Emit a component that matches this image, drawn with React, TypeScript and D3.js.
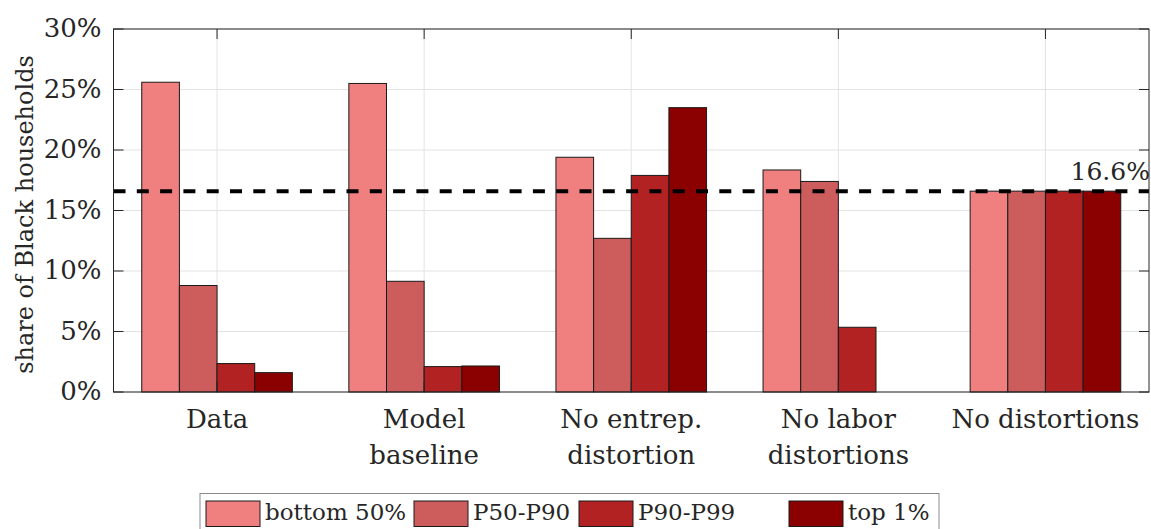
import React from 'react';
import * as d3 from 'd3';

// chart values (percent of Black households)
const categories = [['Data'], ['Model', 'baseline'], ['No entrep.', 'distortion'], ['No labor', 'distortions'], ['No distortions']];
const seriesNames = ['bottom 50%', 'P50-P90', 'P90-P99', 'top 1%'];
const seriesColors = ['#F08080', '#CD5C5C', '#B22222', '#8B0000'];
const bottom50 = [25.6, 25.5, 19.4, 18.35, 16.6];
const p50p90 = [8.8, 9.15, 12.7, 17.4, 16.6];
const p90p99 = [2.35, 2.1, 17.9, 5.35, 16.6];
const top1 = [1.6, 2.15, 23.5, 0, 16.6];
const yTicks = [0, 5, 10, 15, 20, 25, 30];
const refLevel = 16.6;

const W = 1151;
const H = 529;
const margins = { left: 113.5, right: 2, top: 29, bottom: 137 };
const txt: React.CSSProperties = { fontFamily: "'DejaVu Serif', 'Liberation Serif', 'Noto Serif', Times, serif" };
const ink = '#262626';

const series = [bottom50, p50p90, p90p99, top1];

export default function App() {
  const x = d3.scaleLinear()
    .domain([0.5, categories.length + 0.5])
    .range([margins.left, W - margins.right]);
  const y = d3.scaleLinear()
    .domain([0, 30])
    .range([H - margins.bottom, margins.top]);

  // matlab-style grouped bars
  const groupWidth = series.length / (series.length + 1.5);
  const barW = groupWidth / series.length;

  const x0 = x.range()[0], x1 = x.range()[1];
  const y0 = y.range()[0], y1 = y.range()[1];

  const legendX = [206, 414, 579, 789];

  return (
    <svg width={W} height={H} style={{ position: 'absolute', left: 0, top: 0, background: '#fff' }}>
      {/* grid */}
      {yTicks.map(t => (
        <line key={'gy' + t} x1={x0} x2={x1} y1={y(t)} y2={y(t)} stroke="#e3e3e3" strokeWidth={1} />
      ))}
      {categories.map((c, i) => (
        <line key={'gx' + i} x1={x(i + 1)} x2={x(i + 1)} y1={y0} y2={y1} stroke="#e3e3e3" strokeWidth={1} />
      ))}

      {/* bars */}
      {series.map((vals, s) =>
        vals.map((v, i) => {
          const left = i + 1 - groupWidth / 2 + s * barW;
          return (
            <rect key={s + '-' + i}
              x={x(left)} width={x(left + barW) - x(left)}
              y={y(v)} height={y(0) - y(v)}
              fill={seriesColors[s]} stroke="#1a1a1a" strokeWidth={1} />
          );
        })
      )}

      {/* reference line */}
      <line x1={x0} x2={x1} y1={y(refLevel)} y2={y(refLevel)}
        stroke="#000" strokeWidth={4} strokeDasharray="12 11.3" />
      <text x={x1 + 1} y={y(refLevel) - 11} textAnchor="end" fontSize={25} fill={ink} style={txt}>
        {refLevel.toFixed(1)}%
      </text>

      {/* axes box */}
      <rect x={x0} y={y1} width={x1 - x0} height={y0 - y1} fill="none" stroke={ink} strokeWidth={1} />
      {yTicks.map(t => (
        <g key={'ty' + t}>
          <line x1={x0} x2={x0 + 10} y1={y(t)} y2={y(t)} stroke={ink} />
          <line x1={x1} x2={x1 - 10} y1={y(t)} y2={y(t)} stroke={ink} />
          <text x={x0 - 12} y={y(t) + 8} textAnchor="end" fontSize={26} fill={ink} style={txt}>{t}%</text>
        </g>
      ))}
      {categories.map((c, i) => (
        <g key={'tx' + i}>
          <line x1={x(i + 1)} x2={x(i + 1)} y1={y1} y2={y1 + 10} stroke={ink} />
          <line x1={x(i + 1)} x2={x(i + 1)} y1={y0} y2={y0 - 10} stroke={ink} />
          {c.map((line, k) => (
            <text key={k} x={x(i + 1)} y={y0 + 35.5 + k * 36} textAnchor="middle" fontSize={26} fill={ink} style={txt}>{line}</text>
          ))}
        </g>
      ))}

      <text transform={`translate(33,${(y0 + y1) / 2 + 4}) rotate(-90)`} textAnchor="middle" fontSize={24} fill={ink} style={txt}>
        share of Black households
      </text>

      {/* legend */}
      <rect x={200} y={493.5} width={739} height={45} fill="#fff" stroke="#8a8a8a" strokeWidth={1} />
      {seriesNames.map((n, s) => (
        <g key={n}>
          <rect x={legendX[s]} y={501} width={54} height={25.5} fill={seriesColors[s]} stroke="#1a1a1a" />
          <text x={legendX[s] + 59} y={519.5} fontSize={23} fill={ink} style={txt}>{n}</text>
        </g>
      ))}
    </svg>
  );
}
